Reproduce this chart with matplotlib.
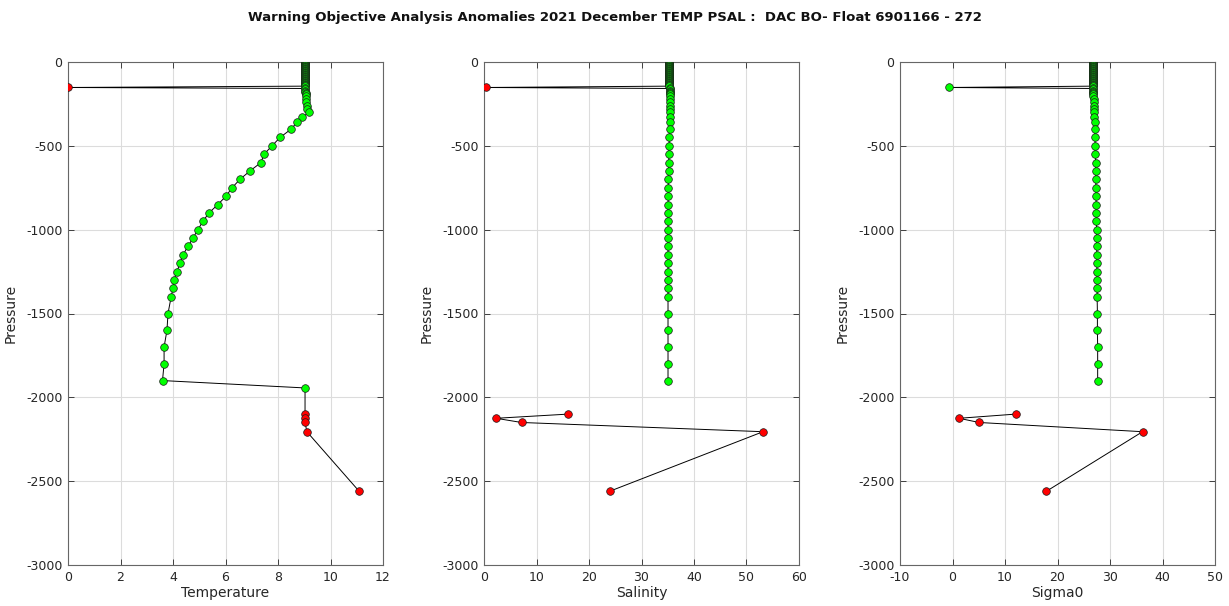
import numpy as np
import matplotlib
matplotlib.use("Agg")
import matplotlib.pyplot as plt

# Profile pressures (dbar, plotted negative)
pressure = [0, 4, 8, 12, 16, 20, 24, 28, 32, 36, 40, 44, 48, 52, 56, 60, 64, 68,
            72, 76, 80, 84, 88, 92, 96, 100, 104, 108, 112, 116, 120, 124, 128,
            132, 136, 140, 144, 152, 158, 164, 170, 176, 182, 190, 200, 220, 240,
            260, 280, 300, 330, 360, 400, 450, 500, 550, 600, 650, 700, 750, 800,
            850, 900, 950, 1000, 1050, 1100, 1150, 1200, 1250, 1300, 1350, 1400,
            1500, 1600, 1700, 1800, 1900, 1944, 2100, 2125, 2150, 2205, 2560]

temperature = [9.02, 9.02, 9.02, 9.02, 9.02, 9.02, 9.02, 9.02, 9.02, 9.02, 9.02,
               9.02, 9.02, 9.02, 9.02, 9.02, 9.02, 9.02, 9.02, 9.02, 9.03, 9.03,
               9.03, 9.03, 9.03, 9.03, 9.03, 9.03, 9.03, 9.03, 9.03, 9.03, 9.03,
               9.03, 9.03, 9.03, 9.03, 0.0, 9.03, 9.04, 9.04, 9.04, 9.05, 9.05,
               9.06, 9.07, 9.08, 9.09, 9.12, 9.18, 8.92, 8.72, 8.50, 8.08, 7.77,
               7.47, 7.35, 6.93, 6.55, 6.25, 6.02, 5.71, 5.37, 5.14, 4.95, 4.76,
               4.57, 4.38, 4.27, 4.15, 4.04, 4.00, 3.93, 3.81, 3.77, 3.66, 3.66,
               3.60, 9.03, 9.03, 9.03, 9.03, 9.10, 11.09]

salinity = [35.3, 35.3, 35.3, 35.3, 35.3, 35.3, 35.3, 35.3, 35.3, 35.3, 35.3,
            35.3, 35.3, 35.3, 35.3, 35.3, 35.3, 35.3, 35.3, 35.3, 35.3, 35.3,
            35.3, 35.3, 35.3, 35.3, 35.3, 35.3, 35.3, 35.3, 35.3, 35.3, 35.3,
            35.3, 35.3, 35.3, 35.3, 0.3, 35.35, 35.35, 35.4, 35.4, 35.4, 35.45,
            35.45, 35.45, 35.5, 35.5, 35.5, 35.5, 35.45, 35.4, 35.35, 35.3, 35.25,
            35.2, 35.2, 35.15, 35.1, 35.1, 35.1, 35.05, 35.05, 35.05, 35.05,
            35.05, 35.05, 35.05, 35.05, 35.05, 35.05, 35.05, 35.05, 35.05, 35.05,
            35.05, 35.05, 35.05, np.nan, 16.04, 2.3, 7.15, 53.15, 23.96]

sigma0 = [26.7, 26.7, 26.7, 26.7, 26.7, 26.7, 26.7, 26.7, 26.7, 26.7, 26.7,
          26.7, 26.7, 26.7, 26.7, 26.7, 26.7, 26.7, 26.7, 26.7, 26.7, 26.7,
          26.7, 26.7, 26.7, 26.7, 26.7, 26.7, 26.7, 26.7, 26.7, 26.7, 26.7,
          26.7, 26.7, 26.7, 26.7, -0.6, 26.75, 26.75, 26.8, 26.8, 26.8, 26.85,
          26.85, 26.9, 26.9, 26.95, 26.95, 27.0, 27.0, 27.05, 27.1, 27.15, 27.15,
          27.2, 27.25, 27.25, 27.3, 27.3, 27.35, 27.35, 27.4, 27.4, 27.45, 27.45,
          27.45, 27.5, 27.5, 27.5, 27.55, 27.55, 27.55, 27.6, 27.6, 27.65, 27.65,
          27.65, np.nan, 12.04, 1.25, 5.08, 36.2, 17.9]

# QC flags: True marks a point drawn in red
bad_temp = [False] * 37 + [True] + [False] * 41 + [True] * 5
bad_psal = [False] * 37 + [True] + [False] * 41 + [True] * 5
bad_sigma = [False] * 79 + [True] * 5

panels = [
    ("Temperature", temperature, bad_temp, (0, 12), np.arange(0, 13, 2)),
    ("Salinity", salinity, bad_psal, (0, 60), np.arange(0, 61, 10)),
    ("Sigma0", sigma0, bad_sigma, (-10, 50), np.arange(-10, 51, 10)),
]

plt.rcParams["font.family"] = ["DejaVu Sans"]
plt.rcParams["axes.unicode_minus"] = False
fig = plt.figure(figsize=(12.29, 6.06), dpi=100)
fig.patch.set_facecolor("white")

lefts = [68, 484, 900]
W, H = 1229, 606
p = -np.asarray(pressure, dtype=float)

for left, (name, vals, bad, xlim, xticks) in zip(lefts, panels):
    ax = fig.add_axes([left / W, 1 - 565 / H, 315 / W, (565 - 62) / H])
    v = np.asarray(vals, dtype=float)
    b = np.asarray(bad)
    ax.plot(v, p, color="black", lw=0.7, zorder=2)
    ax.plot(v[~b], p[~b], ls="none", marker="o", ms=5.5, mfc="#00ff00",
            mec="#1a1a1a", mew=0.5, zorder=3)
    ax.plot(v[b], p[b], ls="none", marker="o", ms=5.5, mfc="#ff0000",
            mec="#1a1a1a", mew=0.5, zorder=4)
    ax.set_xlim(*xlim)
    ax.set_ylim(-3000, 0)
    ax.set_xticks(xticks)
    ax.set_yticks(np.arange(-3000, 1, 500))
    ax.grid(True, color="#dcdcdc", lw=0.8)
    ax.set_axisbelow(True)
    ax.tick_params(direction="in", top=True, right=True, length=4,
                   labelsize=9, colors="#262626", width=0.6, pad=4)
    for s in ax.spines.values():
        s.set_color("#666666")
        s.set_linewidth(0.8)
    ax.set_xlabel(name, fontsize=10, color="#262626", labelpad=2)
    ax.set_ylabel("Pressure", fontsize=10, color="#262626", labelpad=6)

fig.text(0.5, 1 - 17 / H, "Warning Objective Analysis Anomalies 2021 December TEMP PSAL :  DAC BO- Float 6901166 - 272",
         ha="center", va="center", fontsize=9.5, fontweight="bold", color="#111111")

fig.savefig("out.png", dpi=100, facecolor="white")
